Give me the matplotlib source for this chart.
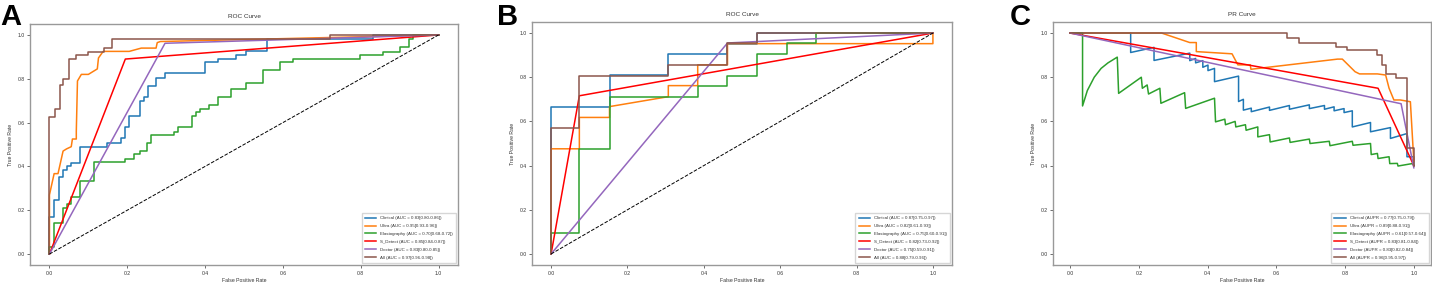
import matplotlib
matplotlib.use("Agg")
import matplotlib.pyplot as plt

plt.rcParams['font.family'] = ['Liberation Sans', 'DejaVu Sans']

# ---- panel A (ROC, training) ----
a_clin_fpr = [0, 0.012, 0.024, 0.034, 0.045, 0.056, 0.079, 0.149, 0.183, 0.195, 0.205, 0.233, 0.243, 0.253, 0.274, 0.296, 0.40, 0.433, 0.479, 0.505, 0.559, 0.832, 1.0]
a_clin_tpr = [0, 0.17, 0.245, 0.35, 0.385, 0.40, 0.417, 0.49, 0.506, 0.53, 0.579, 0.632, 0.70, 0.715, 0.768, 0.803, 0.825, 0.875, 0.89, 0.909, 0.927, 0.98, 1.0]
a_ultra_fpr = [0, 0, 0.012, 0.022, 0.035, 0.044, 0.056, 0.059, 0.069, 0.069, 0.072, 0.082, 0.10, 0.123, 0.126, 0.138, 0.205, 0.236, 0.274, 0.277, 0.285, 1.0]
a_ultra_tpr = [0, 0.27, 0.367, 0.367, 0.47, 0.48, 0.49, 0.525, 0.525, 0.56, 0.79, 0.82, 0.82, 0.845, 0.895, 0.925, 0.925, 0.94, 0.94, 0.965, 0.97, 1.0]
a_elas_fpr = [0, 0.012, 0.035, 0.045, 0.056, 0.079, 0.115, 0.195, 0.217, 0.233, 0.251, 0.26, 0.32, 0.33, 0.366, 0.376, 0.388, 0.411, 0.434, 0.466, 0.505, 0.548, 0.593, 0.627, 0.798, 0.856, 0.90, 0.924, 0.935, 1.0]
a_elas_tpr = [0, 0.033, 0.14, 0.208, 0.227, 0.26, 0.332, 0.42, 0.435, 0.455, 0.47, 0.506, 0.544, 0.556, 0.579, 0.632, 0.647, 0.662, 0.682, 0.715, 0.753, 0.78, 0.839, 0.875, 0.89, 0.909, 0.924, 0.943, 0.98, 1.0]
a_sdet_fpr = [0, 0.195, 1.0]
a_sdet_tpr = [0, 0.89, 1.0]
a_doc_fpr = [0, 0.297, 1.0]
a_doc_tpr = [0, 0.962, 1.0]
a_all_fpr = [0, 0.013, 0.026, 0.036, 0.049, 0.069, 0.10, 0.14, 0.16, 0.72, 1.0]
a_all_tpr = [0, 0.627, 0.66, 0.77, 0.80, 0.89, 0.91, 0.92, 0.94, 0.98, 1.0]
a_labels = ['Clinical (AUC = 0.83[0.80-0.86])', 'Ultra (AUC = 0.95[0.93-0.96])',
            'Elastography (AUC = 0.70[0.68-0.72])', 'S_Detect (AUC = 0.85[0.84-0.87])',
            'Doctor (AUC = 0.83[0.80-0.85])', 'All (AUC = 0.97[0.96-0.98])']

# ---- panel B (ROC, validation) ----
b_clin_fpr = [0, 0.153, 0.307, 0.462, 0.54, 1.0]
b_clin_tpr = [0, 0.667, 0.81, 0.905, 0.952, 1.0]
b_ultra_fpr = [0, 0, 0.074, 0.074, 0.153, 0.153, 0.307, 0.307, 0.384, 0.384, 0.462, 0.462, 1.0, 1.0]
b_ultra_tpr = [0, 0.476, 0.476, 0.618, 0.618, 0.667, 0.712, 0.762, 0.762, 0.856, 0.856, 0.952, 0.952, 1.0]
b_elas_fpr = [0, 0.074, 0.153, 0.384, 0.462, 0.54, 0.619, 0.695, 1.0]
b_elas_tpr = [0, 0.095, 0.476, 0.712, 0.762, 0.807, 0.906, 0.955, 1.0]
b_sdet_fpr = [0, 0.074, 1.0]
b_sdet_tpr = [0, 0.716, 1.0]
b_doc_fpr = [0, 0.462, 1.0]
b_doc_tpr = [0, 0.955, 1.0]
b_all_fpr = [0, 0.074, 0.307, 0.462, 0.54, 1.0]
b_all_tpr = [0, 0.571, 0.807, 0.856, 0.955, 1.0]
b_labels = ['Clinical (AUC = 0.87[0.75-0.97])', 'Ultra (AUC = 0.82[0.61-0.93])',
            'Elastography (AUC = 0.75[0.60-0.91])', 'S_Detect (AUC = 0.82[0.73-0.92])',
            'Doctor (AUC = 0.75[0.59-0.91])', 'All (AUC = 0.88[0.79-0.96])']

# ---- panel C (PR) ----
c_clin_x = [0, 0.176, 0.176, 0.244, 0.244, 0.348, 0.348, 0.365, 0.365, 0.386, 0.386, 0.401, 0.401, 0.42, 0.42, 0.49, 0.49, 0.504, 0.504, 0.527, 0.527, 0.58, 0.58, 0.638, 0.638, 0.696, 0.696, 0.74, 0.74, 0.768, 0.768, 0.797, 0.797, 0.821, 0.821, 0.874, 0.874, 0.932, 0.932, 0.98, 0.98, 1.0, 1.0]
c_clin_y = [1.0, 1.0, 0.912, 0.935, 0.876, 0.909, 0.875, 0.885, 0.865, 0.875, 0.845, 0.855, 0.83, 0.84, 0.78, 0.805, 0.69, 0.70, 0.651, 0.66, 0.644, 0.665, 0.65, 0.672, 0.655, 0.675, 0.658, 0.672, 0.655, 0.666, 0.648, 0.658, 0.64, 0.648, 0.575, 0.595, 0.553, 0.572, 0.523, 0.545, 0.44, 0.44, 0.40]
c_ultra_x = [0, 0.266, 0.348, 0.367, 0.367, 0.471, 0.488, 0.524, 0.526, 0.778, 0.792, 0.829, 0.842, 0.894, 0.918, 0.928, 0.942, 0.961, 0.99, 1.0]
c_ultra_y = [1.0, 1.0, 0.957, 0.957, 0.916, 0.906, 0.856, 0.856, 0.836, 0.882, 0.882, 0.825, 0.815, 0.815, 0.81, 0.75, 0.697, 0.697, 0.689, 0.42]
c_elas_x = [0, 0.036, 0.036, 0.05, 0.07, 0.09, 0.11, 0.137, 0.141, 0.207, 0.21, 0.224, 0.228, 0.261, 0.264, 0.333, 0.336, 0.42, 0.423, 0.45, 0.452, 0.48, 0.482, 0.51, 0.512, 0.546, 0.546, 0.58, 0.582, 0.638, 0.64, 0.696, 0.698, 0.754, 0.756, 0.821, 0.823, 0.874, 0.876, 0.894, 0.896, 0.928, 0.93, 0.952, 0.954, 0.995, 1.0]
c_elas_y = [1.0, 1.0, 0.67, 0.74, 0.80, 0.84, 0.865, 0.891, 0.727, 0.80, 0.75, 0.765, 0.724, 0.75, 0.682, 0.73, 0.659, 0.705, 0.598, 0.61, 0.585, 0.60, 0.575, 0.585, 0.56, 0.575, 0.53, 0.54, 0.507, 0.525, 0.505, 0.52, 0.50, 0.51, 0.49, 0.51, 0.492, 0.50, 0.45, 0.455, 0.432, 0.44, 0.409, 0.41, 0.398, 0.409, 0.40]
c_sdet_x = [0, 0.896, 1.0]
c_sdet_y = [1.0, 0.75, 0.40]
c_doc_x = [0, 0.963, 1.0]
c_doc_y = [1.0, 0.68, 0.39]
c_all_x = [0, 0.631, 0.631, 0.667, 0.667, 0.773, 0.773, 0.807, 0.807, 0.894, 0.894, 0.908, 0.908, 0.92, 0.92, 0.947, 0.947, 0.98, 0.98, 1.0, 1.0]
c_all_y = [1.0, 1.0, 0.977, 0.977, 0.955, 0.955, 0.939, 0.939, 0.921, 0.921, 0.901, 0.901, 0.856, 0.856, 0.815, 0.815, 0.795, 0.795, 0.48, 0.48, 0.40]
c_labels = ['Clinical (AUPR = 0.77[0.75-0.79])', 'Ultra (AUPR = 0.89[0.88-0.91])',
            'Elastagraphy (AUPR = 0.61[0.57-0.64])', 'S_Detect (AUPR = 0.83[0.81-0.84])',
            'Doctor (AUPR = 0.83[0.82-0.84])', 'All (AUPR = 0.96[0.95-0.97])']

colors = ['#1f77b4', '#ff7f0e', '#2ca02c', 'red', '#9467bd', '#8c564b']
LW = 1.1
FS = 3.2
TFS = 3.7


def style(ax, title):
    ax.set_title(title, fontsize=4.6, pad=4, color='#333333')
    ax.set_xlabel('False Positive Rate', fontsize=TFS, labelpad=2, color='#333333')
    ax.set_ylabel('True Positive Rate', fontsize=TFS, labelpad=3, color='#333333')
    ax.tick_params(labelsize=TFS, length=2, width=0.5, pad=2, colors='#333333')
    ax.set_xticks([0, 0.2, 0.4, 0.6, 0.8, 1.0])
    ax.set_yticks([0, 0.2, 0.4, 0.6, 0.8, 1.0])
    ax.set_xlim(-0.05, 1.05)
    ax.set_ylim(-0.05, 1.05)
    for s in ax.spines.values():
        s.set_color('#999999')
        s.set_linewidth(1.0)
    leg = ax.legend(loc='lower right', fontsize=FS, handlelength=2.6, borderpad=0.7,
                    labelspacing=0.85, edgecolor='#cccccc', fancybox=False)
    for t in leg.get_texts():
        t.set_color('#333333')


fig = plt.figure(figsize=(14.32, 2.82), dpi=100)
H = 282.0
W = 1432.0
axA = fig.add_axes([30 / W, 17 / H, 428 / W, 241 / H])
axB = fig.add_axes([532 / W, 17 / H, 420 / W, 243 / H])
axC = fig.add_axes([1053 / W, 17 / H, 378 / W, 243 / H])

# A
axA.plot(a_clin_fpr, a_clin_tpr, drawstyle='steps-pre', color=colors[0], lw=LW, label=a_labels[0])
axA.plot(a_ultra_fpr, a_ultra_tpr, color=colors[1], lw=LW, label=a_labels[1])
axA.plot(a_elas_fpr, a_elas_tpr, drawstyle='steps-pre', color=colors[2], lw=LW, label=a_labels[2])
axA.plot(a_sdet_fpr, a_sdet_tpr, color=colors[3], lw=LW, label=a_labels[3])
axA.plot(a_doc_fpr, a_doc_tpr, color=colors[4], lw=LW, label=a_labels[4])
axA.plot(a_all_fpr, a_all_tpr, drawstyle='steps-pre', color=colors[5], lw=LW, label=a_labels[5])
axA.plot([0, 1], [0, 1], 'k--', lw=0.7)
style(axA, 'ROC Curve')

# B
axB.plot(b_clin_fpr, b_clin_tpr, drawstyle='steps-pre', color=colors[0], lw=LW, label=b_labels[0])
axB.plot(b_ultra_fpr, b_ultra_tpr, color=colors[1], lw=LW, label=b_labels[1])
axB.plot(b_elas_fpr, b_elas_tpr, drawstyle='steps-pre', color=colors[2], lw=LW, label=b_labels[2])
axB.plot(b_sdet_fpr, b_sdet_tpr, color=colors[3], lw=LW, label=b_labels[3])
axB.plot(b_doc_fpr, b_doc_tpr, color=colors[4], lw=LW, label=b_labels[4])
axB.plot(b_all_fpr, b_all_tpr, drawstyle='steps-pre', color=colors[5], lw=LW, label=b_labels[5])
axB.plot([0, 1], [0, 1], 'k--', lw=0.7)
style(axB, 'ROC Curve')

# C
axC.plot(c_clin_x, c_clin_y, color=colors[0], lw=LW, label=c_labels[0])
axC.plot(c_ultra_x, c_ultra_y, color=colors[1], lw=LW, label=c_labels[1])
axC.plot(c_elas_x, c_elas_y, color=colors[2], lw=LW, label=c_labels[2])
axC.plot(c_sdet_x, c_sdet_y, color=colors[3], lw=LW, label=c_labels[3])
axC.plot(c_doc_x, c_doc_y, color=colors[4], lw=LW, label=c_labels[4])
axC.plot(c_all_x, c_all_y, color=colors[5], lw=LW, label=c_labels[5])
style(axC, 'PR Curve')

fig.text(0 / W, 1 - 3 / H, 'A', fontsize=21, fontweight='bold', va='top', ha='left')
fig.text(497 / W, 1 - 3 / H, 'B', fontsize=21, fontweight='bold', va='top', ha='left')
fig.text(1010 / W, 1 - 3 / H, 'C', fontsize=21, fontweight='bold', va='top', ha='left')

fig.savefig('out.png', dpi=100)
